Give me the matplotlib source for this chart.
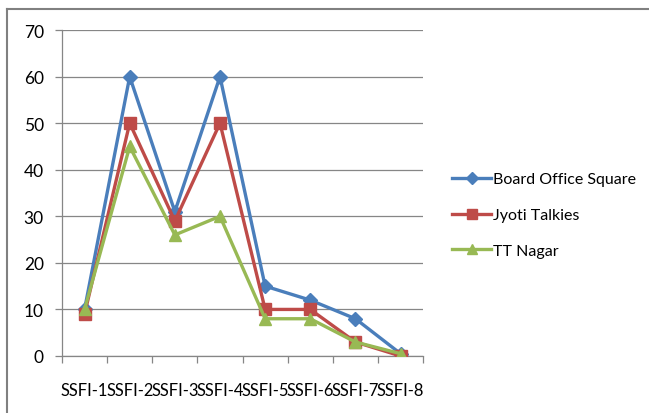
"""Line chart of SSFI readings at three Bhopal sites."""

import matplotlib.pyplot as plt
from matplotlib.lines import Line2D

categories = ["SSFI-1", "SSFI-2", "SSFI-3", "SSFI-4", "SSFI-5", "SSFI-6", "SSFI-7", "SSFI-8"]
board_office = [10, 60, 31, 60, 15, 12, 8, 0.5]
jyoti_talkies = [9, 50, 29, 50, 10, 10, 3, 0]
tt_nagar = [10, 45, 26, 30, 8, 8, 3, 0.5]
y_ticks = [0, 10, 20, 30, 40, 50, 60, 70]

series = [
    ("Board Office Square", board_office, "#4A7EBB", "D", 7.5),
    ("Jyoti Talkies", jyoti_talkies, "#BE4B48", "s", 8.5),
    ("TT Nagar", tt_nagar, "#98B954", "^", 9),
]

plt.rcParams["font.family"] = ["Lato", "DejaVu Sans"]

fig = plt.figure(figsize=(6.49, 4.14), dpi=100)
ax = fig.add_axes([0.0955, 0.1377, 0.5565, 0.7873])

x = list(range(len(categories)))
for name, values, color, marker, size in series:
    ax.plot(x, values, color=color, linewidth=2.4, marker=marker,
            markersize=size, label=name, zorder=3)

ax.set_xlim(-0.5, len(categories) - 0.5)
ax.set_ylim(0, 70)
ax.set_yticks(y_ticks)
ax.grid(axis="y", color="#868686", linewidth=0.9)
ax.set_axisbelow(True)

ax.set_xticks(x)
ax.set_xticklabels(categories, fontsize=11.9)
ax.set_xticks([i - 0.5 for i in range(len(categories) + 1)], minor=True)
ax.tick_params(axis="x", which="major", length=0, pad=19)
ax.tick_params(axis="x", which="minor", length=5, color="#868686", width=0.9)
ax.tick_params(axis="y", length=5, color="#868686", width=0.9, labelsize=12.5, pad=8)

for side in ("top", "right"):
    ax.spines[side].set_visible(False)
for side in ("left", "bottom"):
    ax.spines[side].set_color("#868686")
    ax.spines[side].set_linewidth(0.9)

handles = [
    Line2D([], [], color=c, linewidth=2.4, marker=m, markersize=s * 0.8)
    for _, _, c, m, s in series
]
fig.legend(handles, [s[0] for s in series], loc="center left",
           bbox_to_anchor=(0.675, 0.478), frameon=False, fontsize=11.5,
           handlelength=2.4, handletextpad=0.15, labelspacing=1.35)

# outer chart frame
fig.add_artist(Line2D([0.011, 0.011], [0.0, 0.976], color="#808080", linewidth=1.5))
fig.add_artist(Line2D([0.011, 1.0], [0.976, 0.976], color="#808080", linewidth=1.5))

fig.savefig("out.png", dpi=100)
